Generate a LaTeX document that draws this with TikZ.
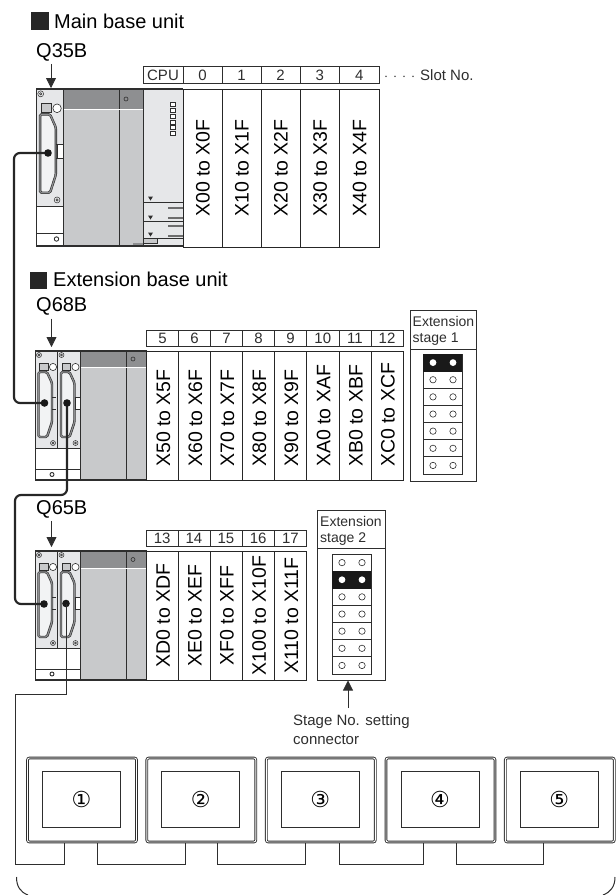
\documentclass[tikz,border=0pt]{standalone}
\usepackage{fontspec}
\setmainfont{Liberation Sans}
\newfontfamily\circfont{DejaVu Sans}
\usetikzlibrary{arrows.meta}

\definecolor{linecol}{HTML}{2E2E2E}
\definecolor{darkcol}{HTML}{8E8F91}
\definecolor{bodycol}{HTML}{C8C9CB}
\definecolor{panelcol}{HTML}{E6E7E9}

\tikzset{
  heading/.style={anchor=base west,inner sep=0,font=\fontsize{20}{24}\selectfont},
  model/.style={anchor=base west,inner sep=0,font=\fontsize{20}{24}\selectfont},
  small/.style={anchor=base west,inner sep=0,text=linecol,font=\fontsize{15}{18}\selectfont},
  numcell/.style={draw=linecol,line width=.9pt,inner sep=0,text=linecol,font=\fontsize{15}{18}\selectfont},
  slotbox/.style={draw=black!85,line width=1pt,fill=white,inner sep=0},
  slottext/.style={rotate=90,inner sep=0,font=\fontsize{19.5}{24}\selectfont},
  pointer/.style={draw=linecol,line width=.8pt,-{Stealth[length=10pt,width=10pt,inset=0pt]}},
  wire/.style={draw=black!85,line width=2.2pt,rounded corners=6pt},
  thinwire/.style={draw=linecol,line width=1pt},
  frame/.style={draw=linecol,line width=.9pt},
  monitor/.style={draw=linecol,line width=.9pt,double=white,double distance=.9pt,rounded corners=2pt,
    minimum width=109pt,minimum height=84pt,inner sep=0},
  screen/.style={draw=linecol,line width=.8pt,minimum width=78pt,minimum height=56pt,inner sep=0,
    font=\circfont\fontsize{22}{24}\selectfont},
}

% One connector panel of a base unit
\newcommand{\basepanel}[4]{
  \begin{scope}[shift={(#1,#2)},xscale=#3,yscale=#4]
    \fill[panelcol] (0,0) rectangle (23,97);
    \draw[frame,line width=.5pt] (4,4) circle (2.5) (4,4) circle (1);
    \draw[frame,line width=.5pt] (18,92) circle (2.5) (18,92) circle (1);
    \draw[frame,line width=.6pt,fill=white] (18,16) circle (3.6);
    \draw[frame,line width=.5pt,fill=bodycol] (4.5,12) rectangle (13,19);
    \draw[linecol,line width=.6pt,double=darkcol,double distance=1.2pt,fill=panelcol!50!white,rounded corners=1.5pt]
      (3.5,21) -- (12,21) -- (17,32) -- (17,71) -- (12,86) -- (3.5,86) -- cycle;
  \end{scope}
}

% Notch at the right edge of a panel
\newcommand{\panelnotch}[4]{
  \begin{scope}[shift={(#1,#2)},xscale=#3,yscale=#4]
    \fill[white] (18,46) rectangle (23,58);
    \draw[linecol,line width=1pt] (17,46) -- (23,46) (17,58) -- (23,58) (18,46) -- (18,58);
  \end{scope}
}

% Grey block with the dark strip along its top
\newcommand{\greyblock}[6]{
  \fill[bodycol] (#1,#3) rectangle (#2,#5);
  \fill[darkcol] (#1,#3) rectangle (#2,#4);
  \draw[linecol,line width=.9pt] (#6,#3) -- (#6,#5);
  \draw[white,line width=.6pt] (#1,#4) -- (#2,#4);
  \draw[linecol,line width=.6pt] ({#6+7},{(#3+#4)/2}) circle (2);
}

% Stage No. jumper, #3 is the row that is set
\newcommand{\jumper}[3]{
  \foreach \r in {1,...,7}{
    \pgfmathsetmacro{\ya}{#2+(\r-1)*17.14}
    \draw[frame] (#1,\ya) rectangle ++(39,17.14);
    \draw[frame,line width=.6pt] (#1+10,\ya+8.6) circle (3.2) (#1+30,\ya+8.6) circle (3.2);
  }
  \pgfmathsetmacro{\yb}{#2+(#3-1)*17.14}
  \fill[black!90] (#1,\yb) rectangle ++(39,18);
  \fill[white] (#1+10,\yb+8.6) circle (3.4) (#1+30,\yb+8.6) circle (3.4);
}

\begin{document}
\begin{tikzpicture}[x=1pt,y=-1pt]
\useasboundingbox (0,0) rectangle (616,895);

% Main base unit
\fill[black!85] (31,12) rectangle (49,30);
\node[heading] (headMain) at (54,28) {Main base unit};
\node[model] (modelMain) at (36,57) {Q35B};
\coordinate (topMain) at (51,88);
\coordinate (dotMain) at (48,153);

\fill[white] (36,206) rectangle (63,246);
\basepanel{36}{89}{1.17}{1.206}
\panelnotch{36}{89}{1.17}{1.206}
\greyblock{63}{143}{89}{109}{246}{119}
\draw[frame] (36,206) -- (63,206) (36,233) -- (63,233);
\draw[frame] (56.5,239) circle (2.2);

% CPU module
\fill[panelcol] (143,89) rectangle (183,246);
\foreach \i in {0,...,5}
  \draw[frame,line width=.6pt,fill=white] (170.5,{102.5+\i*5.8}) rectangle ++(5,4);
\foreach \y in {202,221,238}{
  \draw[frame,line width=.6pt] (143,\y) -- (183,\y);
  \fill[linecol] (148,\y-5.5) -- (153,\y-5.5) -- (150.5,\y-1.5) -- cycle;
}
\foreach \y in {208,218,226,236}
  \fill[linecol!70!white] (168,\y-1) rectangle (183,\y+1);
\draw[frame,line width=.6pt,fill=bodycol] (143,238) rectangle (157,243);
\fill[darkcol] (133,243) rectangle (143,246);
\draw[frame,line width=1.1pt] (36,89) -- (183,89) (36,246) -- (183,246);
\draw[frame] (36,89) -- (36,246) (63,89) -- (63,246) (143,89) -- (143,246);

\node[numcell,minimum width=40pt,minimum height=16.5pt] (cellCPU) at (163,75) {CPU};
\foreach \xa/\xb/\n/\t in {183/222/0/X00 to X0F,222/261/1/X10 to X1F,261/300/2/X20 to X2F,300/339.5/3/X30 to X3F,339.5/379/4/X40 to X4F}{
  \node[numcell,minimum width={\xb-\xa},minimum height=16.5pt] (cell\n) at ({(\xa+\xb)/2},75) {\n};
  \node[slotbox,minimum width={\xb-\xa},minimum height=158pt] (slot\n) at ({(\xa+\xb)/2},168) {};
  \node[slottext,anchor=base west] (slottext\n) at ({(\xa+\xb)/2+7},217) {\t};
}
\node[small] (slotNo) at (384,80) {$\cdot$\,\,$\cdot$\,\,$\cdot$\,\,$\cdot$\,\,Slot No.};

% Extension base unit, stage 1
\fill[black!85] (30,272) rectangle (47,289);
\node[heading] (headExt) at (53,286.7) {Extension base unit};
\node[model] (modelExtA) at (36,311.7) {Q68B};
\coordinate (topExtA) at (51.5,347);
\coordinate (dotExtA) at (44.5,403);
\coordinate (dotExtB) at (67,403);

\basepanel{35}{351}{1}{1}
\basepanel{57.5}{351}{1}{1}
\panelnotch{57.5}{351}{1}{1}
\draw[linecol,line width=1pt] (52,397) -- (56,397) (52,409) -- (56,409);
\greyblock{80}{146.5}{351}{367}{480}{126}
\draw[frame] (35,448) -- (80,448) (35,469) -- (80,469);
\draw[frame] (52,474.5) circle (2);
\draw[frame,line width=1.1pt] (35,351) -- (146.5,351) (35,480) -- (146.5,480);
\draw[frame] (35,351) -- (35,480) (57.5,351) -- (57.5,448) (80,351) -- (80,480);
\foreach \xa/\xb/\n/\t in {146.5/178.5/5/X50 to X5F,178.5/210.5/6/X60 to X6F,210.5/242.5/7/X70 to X7F,242.5/274.5/8/X80 to X8F,274.5/306.5/9/X90 to X9F,306.5/339/10/XA0 to XAF,339/371/11/XB0 to XBF,371/403/12/XC0 to XCF}{
  \node[numcell,minimum width={\xb-\xa},minimum height=15.5pt] (cell\n) at ({(\xa+\xb)/2},338.5) {\n};
  \node[slotbox,minimum width={\xb-\xa},minimum height=129pt] (slot\n) at ({(\xa+\xb)/2},415.5) {};
  \node[slottext,anchor=base west] (slottext\n) at ({(\xa+\xb)/2+7.5},467) {\t};
}

% Stage setting 1
\draw[frame] (410,310) rectangle (476,481);
\draw[frame] (410,349) -- (476,349);
\node[small] (stageAa) at (412.5,326.7) {\fontsize{14}{16}\selectfont Extension};
\node[small] (stageAb) at (412.5,342.7) {\fontsize{14}{16}\selectfont stage 1};
\jumper{423}{354}{1}

% Extension base unit, stage 2
\node[model] (modelExtB) at (36,514) {Q65B};
\coordinate (topExtB) at (51.5,547);
\coordinate (dotLowA) at (44,604);
\coordinate (dotLowB) at (66,603.5);

\basepanel{35}{551}{1}{1}
\basepanel{57.5}{551}{1}{1}
\panelnotch{57.5}{551}{1}{1}
\draw[linecol,line width=1pt] (52,597) -- (56,597) (52,609) -- (56,609);
\greyblock{80}{146.5}{551}{568}{680}{126}
\draw[frame] (35,648) -- (80,648) (35,669) -- (80,669);
\draw[frame] (52,674) circle (2);
\draw[frame,line width=1.1pt] (35,551) -- (146.5,551) (35,680) -- (146.5,680);
\draw[frame] (35,551) -- (35,680) (57.5,551) -- (57.5,648) (80,551) -- (80,680);
\foreach \xa/\xb/\n/\t in {146.5/178/13/XD0 to XDF,178/210/14/XE0 to XEF,210/242/15/XF0 to XFF,242/274.5/16/X100 to X10F,274.5/306.5/17/X110 to X11F}{
  \node[numcell,minimum width={\xb-\xa},minimum height=16.5pt] (cell\n) at ({(\xa+\xb)/2},538.5) {\n};
  \node[slotbox,minimum width={\xb-\xa},minimum height=129pt] (slot\n) at ({(\xa+\xb)/2},615.5) {};
  \node[slottext,anchor=base] (slottext\n) at ({(\xa+\xb)/2+7.5},615.5) {\t};
}

% Stage setting 2
\draw[frame] (317,510) rectangle (385,680);
\draw[frame] (317,548) -- (385,548);
\node[small] (stageBa) at (320,526) {\fontsize{14}{16}\selectfont Extension};
\node[small] (stageBb) at (320,542.7) {\fontsize{14}{16}\selectfont stage 2};
\jumper{332}{554}{2}

% Pointers
\draw[pointer] (modelMain.south -| topMain) ++(0,3) -- (topMain);
\draw[pointer] (modelExtA.south -| topExtA) ++(0,3) -- (topExtA);
\draw[pointer] (modelExtB.south -| topExtB) ++(0,3) -- (topExtB);
\node[small] (stageNoA) at (293,725) {Stage No. setting};
\node[small] (stageNoB) at (293,744) {connector};
\coordinate (stageTip) at (348,680.5);
\draw[pointer] (348,708) -- (stageTip);

% Extension cables
\coordinate (railA) at (14,280);
\coordinate (railB) at (15,495);
\draw[wire] (dotMain) -| (railA) |- (dotExtA);
\draw[wire] (dotExtB) |- (railB) |- (dotLowA);
\foreach \d in {dotMain,dotExtA,dotExtB,dotLowA,dotLowB}
  \fill[black!90] (\d) circle (3.8);

% Monitors
\foreach \x/\n/\t in {82/1/①,201.3/2/②,320.8/3/③,440.5/4/④,559.8/5/⑤}{
  \node[monitor] (mon\n) at (\x,800) {};
  \node[screen] (scr\n) at (\x-.5,799) {\t};
}

% Bus cable
\coordinate (portAb) at (64,843);
\foreach \n/\x in {Ba/97.4,Bb/185.5,Ca/217,Cb/305,Da/339,Db/423.6,Ea/456.6,Eb/543.4}
  \coordinate (port\n) at (\x,843);
\coordinate (turnA) at (15.7,694.7);
\coordinate (turnB) at (15.7,864);
\draw[thinwire] (dotLowB) |- (turnA) -- (turnB) -| (portAb);
\foreach \a/\b in {Ba/Bb,Ca/Cb,Da/Db,Ea/Eb}
  \draw[thinwire] (port\a) -- ++(0,21) -| (port\b);

% Brace at the bottom
\draw[thinwire] (16.5,877) .. controls (16.5,886) and (20,892) .. (28,895);
\draw[thinwire] (615,877) .. controls (615,886) and (611,892) .. (603,895);

\end{tikzpicture}
\end{document}
